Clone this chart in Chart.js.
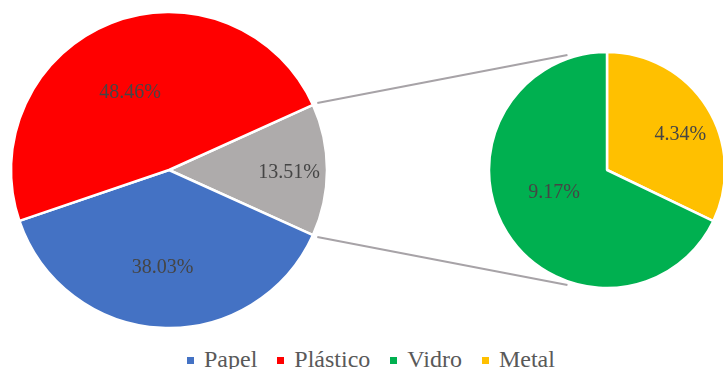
<!DOCTYPE html>
<html>
<head>
<meta charset="utf-8">
<script src="https://cdn.jsdelivr.net/npm/chart.js@4.4.0/dist/chart.umd.min.js"></script>
<style>
    html, body { margin: 0; padding: 0; background: #fff; }
    #wrap { position: relative; width: 723px; height: 369px; overflow: hidden; }
    #mainPie { position: absolute; left: 0; top: 0; }
    #subPie { position: absolute; left: 487px; top: 50px; }
    #links { position: absolute; left: 0; top: 0; pointer-events: none; }
    #legend {
        position: absolute; left: 187px; top: 347px; white-space: nowrap;
        font-family: "Liberation Serif", "DejaVu Serif", serif;
        font-size: 24px; line-height: 24px; color: #595959;
    }
    .item { display: inline-block; margin-right: 20px; }
    .sw { display: inline-block; width: 7px; height: 7px; margin-right: 10px; vertical-align: 3px; }
</style>
</head>
<body>
<div id="wrap">
    <canvas id="mainPie" width="338" height="340"></canvas>
    <canvas id="subPie" width="240" height="240"></canvas>
    <canvas id="links" width="723" height="340"></canvas>
    <div id="legend"></div>
</div>
<script>
// first pie: the grey slice is broken out into the second pie
const mainCategories = ['Outros', 'Papel', 'Plástico'];
const mainValues = [13.51, 38.03, 48.46];
const mainColors = ['#AEABAB', '#4472C4', '#FF0000'];

// second pie: what the grey slice is made of
const subCategories = ['Metal', 'Vidro'];
const subValues = [4.34, 9.17];
const subColors = ['#FFC000', '#00B050'];

const legendOrder = ['Papel', 'Plástico', 'Vidro', 'Metal'];

const sliceLabels = {
    id: 'sliceLabels',
    afterDatasetsDraw(chart, args, opts) {
        const ctx = chart.ctx;
        const meta = chart.getDatasetMeta(0);
        const values = chart.data.datasets[0].data;
        ctx.save();
        ctx.font = '20px "Liberation Serif", "DejaVu Serif", serif';
        ctx.fillStyle = '#454545';
        ctx.textAlign = 'center';
        ctx.textBaseline = 'middle';
        meta.data.forEach((arc, i) => {
            const place = opts.place[i] || { turn: 0, r: 0.6 };
            const angle = (arc.startAngle + arc.endAngle) / 2 + place.turn * Math.PI / 180;
            const r = arc.outerRadius * place.r;
            ctx.fillText(values[i].toFixed(2) + '%', arc.x + Math.cos(angle) * r, arc.y + Math.sin(angle) * r);
        });
        ctx.restore();
    }
};

function pieConfig(labels, values, colors, rotation, radius, place) {
    return {
        type: 'pie',
        data: {
            labels,
            datasets: [{
                data: values,
                backgroundColor: colors,
                borderColor: '#ffffff',
                borderWidth: 2.5,
                hoverOffset: 0
            }]
        },
        options: {
            responsive: false,
            animation: false,
            rotation,
            radius,
            layout: { padding: 0 },
            events: [],
            plugins: {
                legend: { display: false },
                tooltip: { enabled: false },
                sliceLabels: { place }
            }
        },
        plugins: [sliceLabels]
    };
}

// grey slice centred on the right-hand side
const mainChart = new Chart(document.getElementById('mainPie'), pieConfig(
    mainCategories, mainValues, mainColors, 90 - mainValues[0] * 1.8, 158,
    [{ turn: 1.4, r: 0.76 }, { turn: 1, r: 0.62 }, { turn: -5, r: 0.55 }]
));

const subChart = new Chart(document.getElementById('subPie'), pieConfig(
    subCategories, subValues, subColors, 0, 118,
    [{ turn: 6.6, r: 0.69 }, { turn: 8.7, r: 0.49 }]
));

function drawLinks() {
    const canvas = document.getElementById('links');
    const ctx = canvas.getContext('2d');
    const mainCanvas = document.getElementById('mainPie');
    const subCanvas = document.getElementById('subPie');
    const grey = mainChart.getDatasetMeta(0).data[0];
    const sub = subChart.getDatasetMeta(0).data[0];

    const mx = mainCanvas.offsetLeft + grey.x;
    const my = mainCanvas.offsetTop + grey.y;
    const sx = subCanvas.offsetLeft + sub.x;
    const sy = subCanvas.offsetTop + sub.y;
    const R1 = grey.outerRadius * 1.03;
    const R2 = sub.outerRadius * 1.03;
    const tilt = 19 * Math.PI / 180;

    const ends = [
        [grey.startAngle, -Math.PI / 2 - tilt],
        [grey.endAngle, Math.PI / 2 + tilt]
    ];

    ctx.strokeStyle = '#A7A3A7';
    ctx.lineWidth = 2;
    ends.forEach(([a, b]) => {
        ctx.beginPath();
        ctx.moveTo(mx + Math.cos(a) * R1, my + Math.sin(a) * R1);
        ctx.lineTo(sx + Math.cos(b) * R2, sy + Math.sin(b) * R2);
        ctx.stroke();
    });
}

function buildLegend() {
    const colorOf = {};
    mainCategories.forEach((c, i) => { colorOf[c] = mainColors[i]; });
    subCategories.forEach((c, i) => { colorOf[c] = subColors[i]; });
    const legend = document.getElementById('legend');
    legendOrder.forEach(name => {
        const item = document.createElement('span');
        item.className = 'item';
        const sw = document.createElement('span');
        sw.className = 'sw';
        sw.style.background = colorOf[name];
        item.appendChild(sw);
        item.appendChild(document.createTextNode(name));
        legend.appendChild(item);
    });
}

drawLinks();
buildLegend();
</script>
</body>
</html>
